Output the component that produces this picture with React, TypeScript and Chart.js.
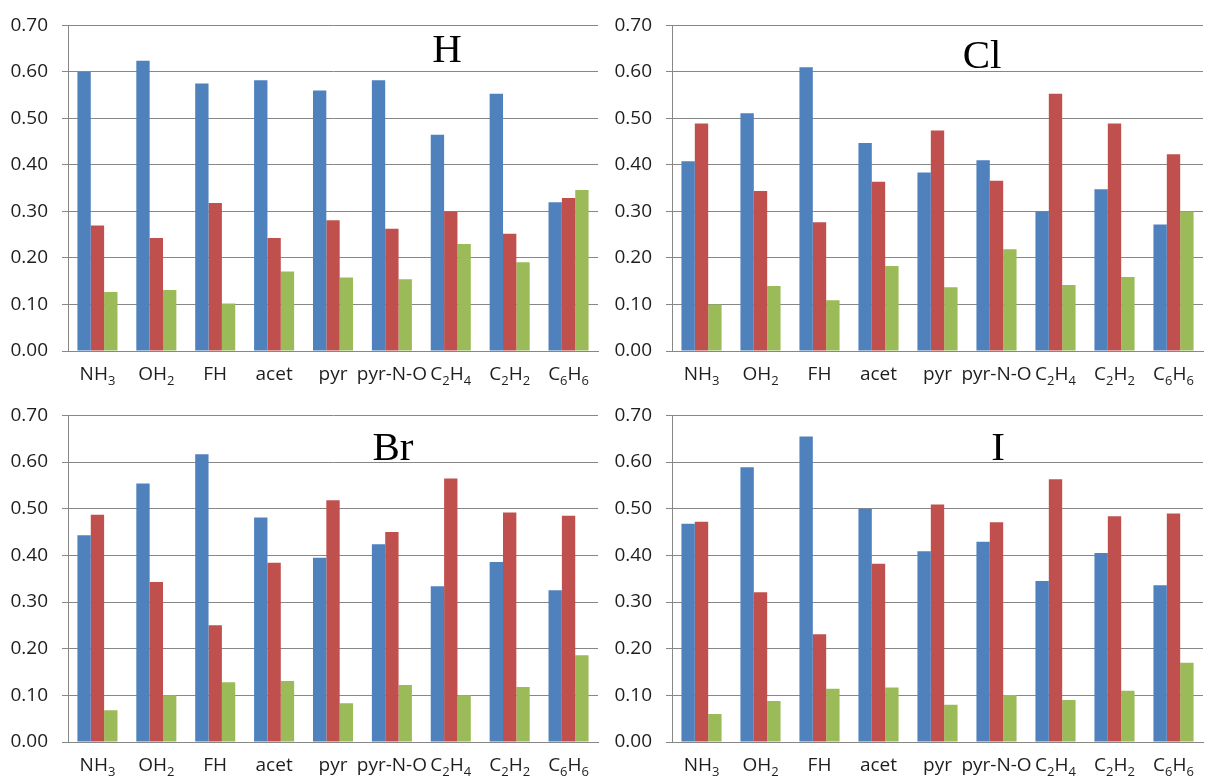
import React, { useEffect, useRef } from "react";
import { Chart, registerables } from "chart.js";

Chart.register(...registerables);

// ---------- data ----------
const categories = ["NH3", "OH2", "FH", "acet", "pyr", "pyr-N-O", "C2H4", "C2H2", "C6H6"];
const yTickValues = [0, 0.1, 0.2, 0.3, 0.4, 0.5, 0.6, 0.7];
const seriesNames = ["Series 1", "Series 2", "Series 3"];
const seriesColors = ["#4F81BD", "#C0504D", "#9BBB59"];

const hTitle = "H";
const hBlue = [0.6, 0.624, 0.575, 0.582, 0.56, 0.582, 0.465, 0.553, 0.32];
const hRed = [0.27, 0.243, 0.318, 0.243, 0.281, 0.263, 0.3, 0.252, 0.329];
const hGreen = [0.127, 0.131, 0.102, 0.171, 0.158, 0.154, 0.23, 0.191, 0.346];

const clTitle = "Cl";
const clBlue = [0.408, 0.511, 0.61, 0.447, 0.384, 0.41, 0.3, 0.348, 0.272];
const clRed = [0.489, 0.344, 0.277, 0.364, 0.474, 0.366, 0.553, 0.489, 0.423];
const clGreen = [0.1, 0.14, 0.109, 0.183, 0.137, 0.219, 0.142, 0.159, 0.3];

const brTitle = "Br";
const brBlue = [0.443, 0.554, 0.617, 0.481, 0.395, 0.424, 0.334, 0.386, 0.325];
const brRed = [0.487, 0.343, 0.25, 0.384, 0.518, 0.45, 0.565, 0.492, 0.485];
const brGreen = [0.068, 0.1, 0.128, 0.131, 0.083, 0.122, 0.1, 0.118, 0.186];

const iTitle = "I";
const iBlue = [0.468, 0.589, 0.655, 0.5, 0.409, 0.429, 0.345, 0.405, 0.336];
const iRed = [0.472, 0.321, 0.231, 0.382, 0.509, 0.471, 0.563, 0.484, 0.49];
const iGreen = [0.06, 0.088, 0.114, 0.117, 0.08, 0.101, 0.09, 0.11, 0.17];

// ---------- layout (positions / styles) ----------
const LABEL_FONT = "'Open Sans', 'DejaVu Sans', sans-serif";
const GRID_COLOR = "#878787";
const TEXT_COLOR = "#1e1e1e";

type PanelLayout = {
  left: number;
  top: number;
  width: number;
  height: number;
  padTop: number;
  padRight: number;
  axisWidth: number;
  xAxisHeight: number;
  titleX: number;
  titleBaseline: number;
};

const layoutTL: PanelLayout = { left: 0, top: 0, width: 602, height: 390, padTop: 22, padRight: 4, axisWidth: 68, xAxisHeight: 39, titleX: 447, titleBaseline: 62 };
const layoutTR: PanelLayout = { left: 602, top: 0, width: 603, height: 390, padTop: 22, padRight: 2, axisWidth: 70, xAxisHeight: 39, titleX: 380, titleBaseline: 68 };
const layoutBL: PanelLayout = { left: 0, top: 390, width: 602, height: 390, padTop: 24, padRight: 4, axisWidth: 68, xAxisHeight: 38, titleX: 393, titleBaseline: 70 };
const layoutBR: PanelLayout = { left: 602, top: 390, width: 603, height: 390, padTop: 24, padRight: 2, axisWidth: 70, xAxisHeight: 38, titleX: 396, titleBaseline: 70 };

function splitRuns(label: string) {
  const runs: { text: string; sub: boolean }[] = [];
  for (const ch of label) {
    const sub = ch >= "0" && ch <= "9";
    const last = runs[runs.length - 1];
    if (last && last.sub === sub) last.text += ch;
    else runs.push({ text: ch, sub });
  }
  return runs;
}

const decorPlugin = {
  id: "decor",
  afterDraw(chart: any) {
    const ctx = chart.ctx as CanvasRenderingContext2D;
    const xs = chart.scales.x;
    const area = chart.chartArea;
    const opts = chart.options.plugins.decor || {};
    ctx.save();
    ctx.fillStyle = TEXT_COLOR;
    ctx.textBaseline = "alphabetic";
    ctx.textAlign = "left";
    const mainFont = `19px ${LABEL_FONT}`;
    const subFont = `13px ${LABEL_FONT}`;
    const baseline = area.bottom + 29;
    (chart.data.labels as string[]).forEach((lab, i) => {
      const runs = splitRuns(lab);
      let total = 0;
      const widths = runs.map((r) => {
        ctx.font = r.sub ? subFont : mainFont;
        const w = ctx.measureText(r.text).width;
        total += w;
        return w;
      });
      let x = xs.getPixelForValue(i) - total / 2;
      runs.forEach((r, k) => {
        ctx.font = r.sub ? subFont : mainFont;
        ctx.fillText(r.text, x, r.sub ? baseline + 5 : baseline);
        x += widths[k];
      });
    });
    if (opts.title) {
      ctx.font = `41px 'Liberation Serif', 'Times New Roman', serif`;
      ctx.textAlign = "center";
      ctx.fillStyle = "#000";
      ctx.fillText(opts.title, opts.titleX, opts.titleBaseline);
    }
    ctx.restore();
  },
};

function Panel({ title, blue, red, green, layout }: { title: string; blue: number[]; red: number[]; green: number[]; layout: PanelLayout }) {
  const ref = useRef<HTMLCanvasElement | null>(null);
  useEffect(() => {
    if (!ref.current) return;
    const values = [blue, red, green];
    const chart = new Chart(ref.current, {
      type: "bar",
      data: {
        labels: categories,
        datasets: values.map((v, k) => ({
          label: seriesNames[k],
          data: v,
          backgroundColor: seriesColors[k],
          borderWidth: 0,
          categoryPercentage: 0.68,
          barPercentage: 1.0,
        })),
      },
      options: {
        responsive: false,
        animation: false,
        layout: { padding: { left: 0, right: layout.padRight, top: layout.padTop, bottom: 0 } },
        plugins: {
          legend: { display: false },
          tooltip: { enabled: false },
          title: { display: false },
          decor: { title, titleX: layout.titleX, titleBaseline: layout.titleBaseline },
        } as any,
        scales: {
          x: {
            type: "category",
            grid: { display: false, drawTicks: false },
            border: { display: true, color: GRID_COLOR, width: 1 },
            ticks: { display: false },
            afterFit: (s: any) => {
              s.height = layout.xAxisHeight;
            },
          },
          y: {
            min: 0,
            max: 0.7,
            afterBuildTicks: (s: any) => {
              s.ticks = yTickValues.map((v) => ({ value: v }));
            },
            grid: { color: GRID_COLOR, lineWidth: 1, drawTicks: true, tickLength: 6, tickColor: GRID_COLOR },
            border: { display: true, color: GRID_COLOR, width: 1 },
            ticks: {
              padding: 14,
              color: TEXT_COLOR,
              font: { family: LABEL_FONT, size: 19 },
              callback: (v: any) => Number(v).toFixed(2),
            },
            afterFit: (s: any) => {
              s.width = layout.axisWidth;
            },
          },
        },
      },
      plugins: [decorPlugin],
    });
    return () => chart.destroy();
  }, [title, blue, red, green, layout]);

  return (
    <canvas
      ref={ref}
      width={layout.width}
      height={layout.height}
      style={{ position: "absolute", left: layout.left, top: layout.top, width: layout.width, height: layout.height }}
    />
  );
}

export default function App() {
  return (
    <div style={{ position: "absolute", left: 0, top: 0, width: 1205, height: 780, background: "#ffffff", overflow: "hidden" }}>
      <Panel title={hTitle} blue={hBlue} red={hRed} green={hGreen} layout={layoutTL} />
      <Panel title={clTitle} blue={clBlue} red={clRed} green={clGreen} layout={layoutTR} />
      <Panel title={brTitle} blue={brBlue} red={brRed} green={brGreen} layout={layoutBL} />
      <Panel title={iTitle} blue={iBlue} red={iRed} green={iGreen} layout={layoutBR} />
    </div>
  );
}
